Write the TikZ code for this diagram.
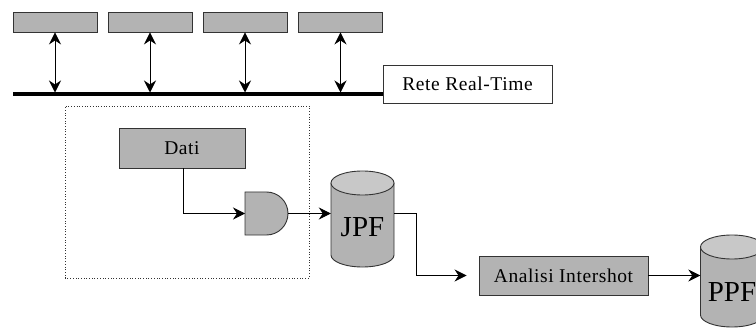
\documentclass[tikz,border=0pt]{standalone}
\usepackage{fontspec}
\setmainfont{Liberation Serif}
\usetikzlibrary{arrows.meta,calc}

\definecolor{boxgray}{RGB}{179,179,179}
\definecolor{capgray}{RGB}{200,200,200}

\newcommand\boxfont{\fontsize{19.5}{22}\selectfont\addfontfeatures{LetterSpace=3}}

\tikzset{
  unit/.style={draw=black!80, line width=0.9pt, fill=boxgray, minimum width=84pt, minimum height=20pt, inner sep=0pt},
  procbox/.style={draw=black!80, line width=0.9pt, fill=boxgray, minimum height=39pt, inner sep=0pt, font=\boxfont},
  labelbox/.style={draw=black!80, line width=0.9pt, fill=white, minimum width=169pt, minimum height=38pt, inner sep=0pt, font=\boxfont},
  arr/.style={line width=0.9pt, -{Stealth[length=12pt,width=12pt,inset=4pt]}},
  biarr/.style={line width=0.9pt, {Stealth[length=12pt,width=12pt,inset=4pt]}-{Stealth[length=12pt,width=12pt,inset=4pt]}},
  drumtext/.style={font=\fontsize{29}{31}\selectfont, inner sep=0pt},
}

% cylinder store: #1 name, #2 centre x, #3 top y, #4 bottom y, #5 label, #6 label y
\newcommand\drumstore[6]{%
  \path[fill=boxgray] (#2-31.5,#3-12) -- (#2-31.5,#4+12)
    arc[start angle=180,end angle=360,x radius=31.5,y radius=12] -- (#2+31.5,#3-12) -- cycle;
  \draw[line width=0.9pt, black!80] (#2-31.5,#3-12) -- (#2-31.5,#4+12)
    arc[start angle=180,end angle=360,x radius=31.5,y radius=12] -- (#2+31.5,#3-12);
  \draw[line width=0.9pt, black!80, fill=capgray] (#2,#3-12) ellipse[x radius=31.5,y radius=12];
  \node[minimum width=63pt, minimum height=#3-#4, inner sep=0pt] (#1) at (#2,{(#3+#4)/2}) {};
  \node[drumtext] (#1text) at (#2,#6) {#5};
}

\begin{document}
\begin{tikzpicture}[x=1pt,y=1pt]
  \useasboundingbox (0,0) rectangle (756,330);
  \clip (0,0) rectangle (756,330);
  \fill[white] (0,0) rectangle (756,330);

  % field units on the real-time network
  \node[unit] (u1) at (55,308) {};
  \node[unit] (u2) at (150,308) {};
  \node[unit] (u3) at (245,308) {};
  \node[unit] (u4) at (340.5,308) {};

  \node[labelbox] (rete) at (467.5,246) {Rete Real-Time};

  % network bus
  \coordinate (busL) at (13,235.5);
  \draw[line width=4pt] (busL) -- (busL -| rete.west);

  \foreach \u in {u1,u2,u3,u4}
    \draw[biarr, shorten >=2pt] (\u.south) -- (\u.south |- busL);

  % acquisition block
  \draw[dotted, line width=0.7pt, black!80] (65,52) rectangle (309,224);
  \node[procbox, minimum width=126pt, minimum height=40pt] (dati) at (182,182) {Dati};

  % AND gate
  \filldraw[line width=0.9pt, draw=black!80, fill=boxgray]
    (245,95) -- (266.5,95) arc[start angle=-90,end angle=90,radius=21.5] -- (245,138) -- cycle;
  \coordinate (gatein) at (245,116.5);
  \coordinate (gateout) at (288,116.5);

  % data stores
  \drumstore{jpf}{362.5}{159}{63}{JPF}{103}
  \drumstore{ppf}{732}{95}{3}{PPF}{38}

  \node[procbox, minimum width=169pt] (analisi) at (563.5,54.5) {Analisi Intershot};

  % data flow
  \draw[arr] (dati.south -| 183,0) |- (gatein);
  \draw[arr] (gateout) -- (gateout -| jpf.west);
  \draw[arr, shorten >=12pt] (gateout -| jpf.east) -- ++(22,0) |- (analisi.west);
  \draw[arr] (analisi.east) -- (analisi.east -| ppf.west);
\end{tikzpicture}
\end{document}
